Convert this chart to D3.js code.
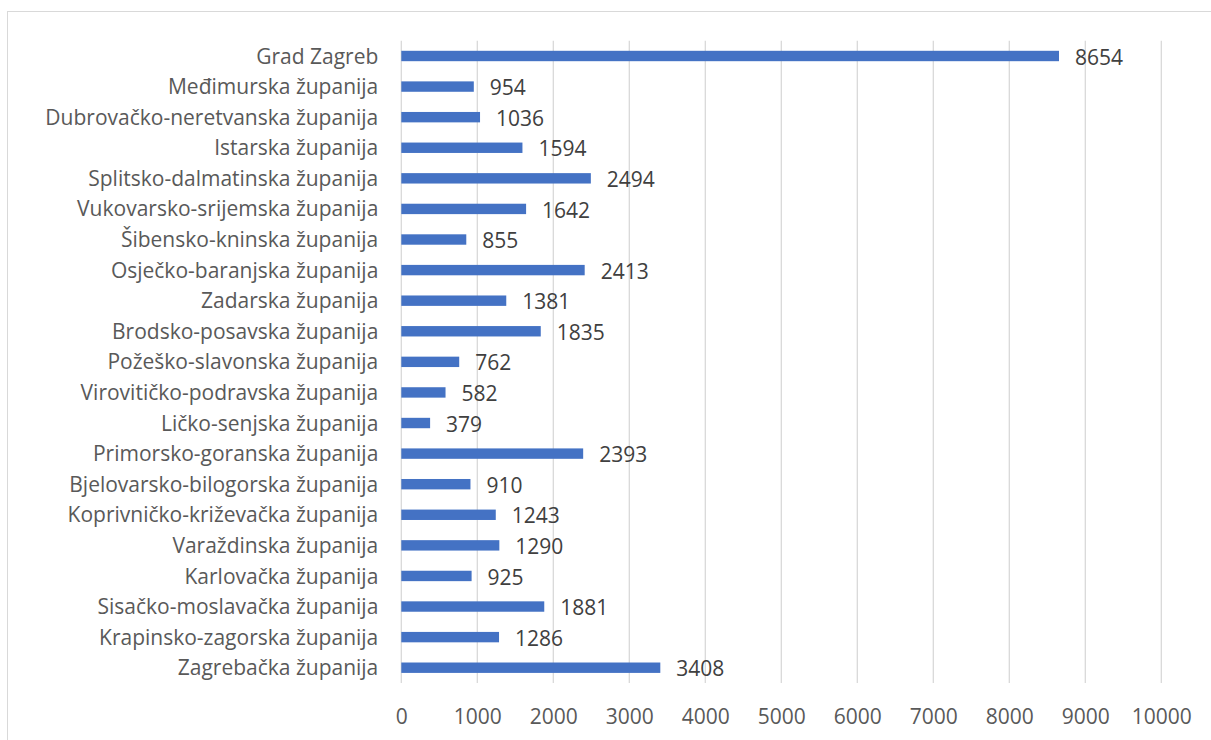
<!DOCTYPE html>
<html>
<head>
<meta charset="utf-8">
<script src="https://cdn.jsdelivr.net/npm/d3@7"></script>
<style>
  body { margin: 0; background: #fff; }
  svg { display: block; font-family: "Open Sans", sans-serif; }
</style>
</head>
<body>
<svg id="chart"></svg>
<script>
// Counties (top to bottom as shown) and their values
const counties = [
    "Grad Zagreb",
    "Međimurska županija",
    "Dubrovačko-neretvanska županija",
    "Istarska županija",
    "Splitsko-dalmatinska županija",
    "Vukovarsko-srijemska županija",
    "Šibensko-kninska županija",
    "Osječko-baranjska županija",
    "Zadarska županija",
    "Brodsko-posavska županija",
    "Požeško-slavonska županija",
    "Virovitičko-podravska županija",
    "Ličko-senjska županija",
    "Primorsko-goranska županija",
    "Bjelovarsko-bilogorska županija",
    "Koprivničko-križevačka županija",
    "Varaždinska županija",
    "Karlovačka županija",
    "Sisačko-moslavačka županija",
    "Krapinsko-zagorska županija",
    "Zagrebačka županija"
];
const values = [8654, 954, 1036, 1594, 2494, 1642, 855, 2413, 1381, 1835, 762, 582, 379, 2393, 910, 1243, 1290, 925, 1881, 1286, 3408];
const xTicks = [0, 1000, 2000, 3000, 4000, 5000, 6000, 7000, 8000, 9000, 10000];

const data = counties.map((name, i) => ({name, value: values[i]}));

const W = 1211, H = 740;
const margin = {top: 40.7, right: 49.7, bottom: 57, left: 401.3};
const fontSize = "21px";

const svg = d3.select("#chart")
    .attr("width", W)
    .attr("height", H);

// chart area border
svg.append("rect")
    .attr("x", 7.5)
    .attr("y", 11.5)
    .attr("width", W + 10)
    .attr("height", H + 10)
    .style("fill", "none")
    .style("stroke", "#d9d9d9")
    .style("stroke-width", 1);

const x = d3.scaleLinear()
    .domain([0, 10000])
    .range([margin.left, W - margin.right]);

const y = d3.scaleBand()
    .domain(counties)
    .range([margin.top, H - margin.bottom])
    .paddingInner(0.66)
    .paddingOuter(0.33);

// gridlines
svg.append("g")
    .selectAll("line")
    .data(xTicks)
    .join("line")
    .attr("x1", d => x(d))
    .attr("x2", d => x(d))
    .attr("y1", margin.top)
    .attr("y2", H - margin.bottom)
    .style("stroke", "#d9d9d9")
    .style("stroke-width", 1.3);

// x axis labels
const xAxis = svg.append("g")
    .attr("transform", `translate(0,${H - margin.bottom})`)
    .call(d3.axisBottom(x).tickValues(xTicks).tickSize(0).tickPadding(26).tickFormat(d3.format("d")));
xAxis.select(".domain").remove();
xAxis.selectAll("text")
    .style("font-family", "'Open Sans', sans-serif")
    .style("font-size", fontSize)
    .style("fill", "#595959");

// y axis labels
const yAxis = svg.append("g")
    .attr("transform", `translate(${margin.left},0)`)
    .call(d3.axisLeft(y).tickSize(0).tickPadding(23));
yAxis.select(".domain").remove();
yAxis.selectAll("text")
    .attr("dy", "0.36em")
    .style("font-family", "'Open Sans', sans-serif")
    .style("font-size", fontSize)
    .style("fill", "#595959");

// bars
svg.append("g")
    .selectAll("rect")
    .data(data)
    .join("rect")
    .attr("x", x(0))
    .attr("y", d => y(d.name))
    .attr("width", d => x(d.value) - x(0))
    .attr("height", y.bandwidth())
    .style("fill", "#4472c4");

// value labels
svg.append("g")
    .selectAll("text")
    .data(data)
    .join("text")
    .attr("x", d => x(d.value) + 16)
    .attr("y", d => y(d.name) + y.bandwidth() / 2)
    .attr("dy", "0.41em")
    .style("font-size", fontSize)
    .style("fill", "#404040")
    .text(d => d.value);
</script>
</body>
</html>
